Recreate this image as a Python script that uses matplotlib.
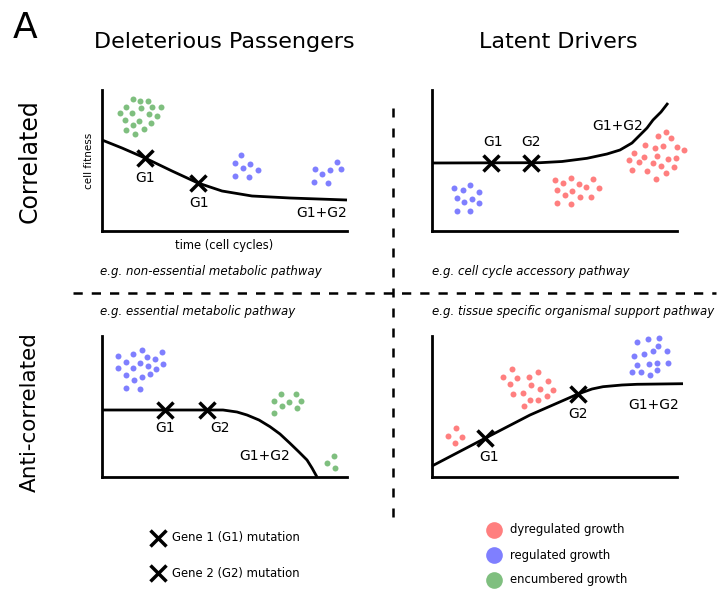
import matplotlib
matplotlib.use("Agg")
import matplotlib.pyplot as plt

RED = "#ff7f7f"
BLUE = "#7f7fff"
GREEN = "#7fbf7f"

# panel data, in axis units (pixels from the panel origin)
p1_curve_x = [0, 20, 43, 70, 96, 120, 150, 188, 245]
p1_curve_y = [91, 83, 73, 60, 48, 40, 35, 33, 31]
p1_marks_x = [43, 96]
p1_marks_y = [73, 48]
p1_green_x = [30.6, 38.3, 45.6, 24.3, 39, 50.3, 58.6, 18.3, 30.3, 47, 55.3, 23.3, 37.3, 49, 30.6, 41.6, 24.3, 33.3]
p1_green_y = [131.7, 129.7, 130.3, 124.3, 123, 124.3, 124.3, 117.7, 117.7, 117, 115, 111, 110.3, 107.7, 105.7, 102.3, 101, 97]
p1_blue_x = [139.3, 132.6, 148.3, 140.6, 156, 132.6, 146.6, 235, 212.6, 227.6, 239.3, 220, 212.3, 226]
p1_blue_y = [75.7, 67.7, 67, 63.3, 61, 55.3, 54.3, 68.7, 61.7, 61, 61.7, 57, 49.3, 48.3]

p2_curve_x = [0, 108, 130, 155, 175, 188, 200, 208, 215, 221, 229, 236]
p2_curve_y = [68, 68.3, 69.5, 72.7, 77, 81, 88, 96, 103, 111, 119, 128]
p2_marks_x = [58.7, 99]
p2_marks_y = [68.3, 68.3]
p2_blue_x = [22, 31.3, 38.3, 46.7, 24.7, 32.3, 40.3, 47.3, 24.7, 38.3]
p2_blue_y = [43.3, 40.7, 45.7, 39.3, 33.3, 28.7, 32.3, 28.3, 20.3, 19.7]
p2_red_x = [123, 131.3, 138.7, 147, 161.3, 125, 133, 140.3, 153.7, 167.3, 148, 158.7, 124.7, 138.7,
            234, 226, 239, 213.3, 223, 231.3, 244.7, 252.3, 201.7, 212, 225.3, 236.3, 244.3, 197,
            206.7, 221.3, 228.7, 242, 199.7, 215, 233.7, 224.3]
p2_red_y = [50.7, 47.7, 53.3, 46.7, 52, 40.7, 36, 39.7, 44.3, 43.3, 33.7, 34, 28, 27,
            99.3, 95, 93, 85.7, 83, 85, 84.3, 80.7, 78.3, 74.3, 75, 72.3, 72.7, 71,
            68.7, 67.7, 64.7, 63.7, 61.3, 60, 58.3, 52.3]

p3_curve_x = [0, 121, 135, 145, 157, 168, 178, 188, 197, 205, 210, 215]
p3_curve_y = [67, 67, 65, 62, 57, 50.3, 43, 33.7, 25, 17, 9, 0]
p3_marks_x = [63, 105.3]
p3_marks_y = [67, 67]
p3_blue_x = [16.3, 31.3, 39.7, 59.7, 24, 44.7, 53, 15.7, 30.7, 38, 46.3, 54, 60.7, 24, 32, 39.7, 48, 24, 38]
p3_blue_y = [121, 123.3, 127, 125.3, 115.3, 120.3, 117.7, 108.7, 109.3, 114.3, 111.3, 107.7, 113, 102, 97, 100.3, 102.7, 88.7, 88]
p3_green_x = [178.7, 193.7, 172, 187.3, 198.7, 180.3, 194.7, 172, 231.7, 225.3, 233]
p3_green_y = [83, 82.7, 76, 74.7, 76, 71, 69.3, 63.7, 21, 13.7, 9.3]

p4_curve_x = [0, 53, 98, 146, 160, 171, 190, 205, 251]
p4_curve_y = [11, 38.7, 62, 83, 88, 90.3, 92, 92.7, 93.3]
p4_marks_x = [53, 146.3]
p4_marks_y = [38.7, 83]
p4_red_x = [24, 16.3, 30, 23, 79.7, 105.7, 71.3, 85.3, 97, 78.3, 99, 115.7, 80.7, 90.7, 108, 121.3, 98, 106, 114.7, 92.3]
p4_red_y = [48.7, 41, 40.3, 33.7, 108, 104.7, 100.3, 99.3, 100.3, 93.3, 92, 96.3, 83.3, 84.3, 88, 87.3, 77, 77.3, 81.3, 71.3]
p4_blue_x = [204.7, 216.3, 226.7, 226.3, 212, 220.7, 234.7, 202, 204.7, 216.7, 225.3, 236.3, 199.7, 208.7, 218, 224.7]
p4_blue_y = [135.3, 138, 139.3, 131.3, 123, 126.3, 126.3, 121, 112.3, 113, 113.7, 114.3, 105, 105, 101.7, 106.7]

legend_genes = ["Gene 1 (G1) mutation", "Gene 2 (G2) mutation"]
legend_growth = ["dyregulated growth", "regulated growth", "encumbered growth"]
legend_colors = [RED, BLUE, GREEN]

W, H = 718, 589
fig = plt.figure(figsize=(W / 100, H / 100), dpi=100)
bg = fig.add_axes([0, 0, 1, 1])
bg.set_xlim(0, W)
bg.set_ylim(H, 0)
bg.axis("off")


def panel(x0, ybot):
    ax = fig.add_axes([x0 / W, 1 - ybot / H, 245 / W, 141 / H])
    ax.set_xlim(0, 245)
    ax.set_ylim(0, 141)
    for s in ["top", "right"]:
        ax.spines[s].set_visible(False)
    for s in ["left", "bottom"]:
        ax.spines[s].set_linewidth(2)
    ax.set_xticks([])
    ax.set_yticks([])
    ax.patch.set_alpha(0)
    return ax


def dots(ax, xs, ys, color):
    ax.plot(xs, ys, "o", color=color, ms=4.3, mec="none", clip_on=False)


def curve(ax, xs, ys, mx, my):
    ax.plot(xs, ys, color="black", lw=2, clip_on=False, solid_capstyle="butt")
    ax.plot(mx, my, "x", color="black", ms=12, mew=2.5, clip_on=False)


lab = dict(fontsize=10, ha="center", va="center")

ax1 = panel(102, 231)
dots(ax1, p1_green_x, p1_green_y, GREEN)
dots(ax1, p1_blue_x, p1_blue_y, BLUE)
curve(ax1, p1_curve_x, p1_curve_y, p1_marks_x, p1_marks_y)
ax1.text(43, 53, "G1", **lab)
ax1.text(97, 28, "G1", **lab)
ax1.text(220, 18, "G1+G2", **lab)
ax1.set_ylabel("cell fitness", fontsize=7.5, labelpad=6)
ax1.set_xlabel("time (cell cycles)", fontsize=8.3, labelpad=6)

ax2 = panel(432, 231)
dots(ax2, p2_blue_x, p2_blue_y, BLUE)
dots(ax2, p2_red_x, p2_red_y, RED)
curve(ax2, p2_curve_x, p2_curve_y, p2_marks_x, p2_marks_y)
ax2.text(61, 89, "G1", **lab)
ax2.text(99, 89, "G2", **lab)
ax2.text(186, 105, "G1+G2", **lab)

ax3 = panel(102, 477)
dots(ax3, p3_blue_x, p3_blue_y, BLUE)
dots(ax3, p3_green_x, p3_green_y, GREEN)
curve(ax3, p3_curve_x, p3_curve_y, p3_marks_x, p3_marks_y)
ax3.text(63, 48.5, "G1", **lab)
ax3.text(118, 48.5, "G2", **lab)
ax3.text(163, 21, "G1+G2", **lab)

ax4 = panel(432, 477)
dots(ax4, p4_red_x, p4_red_y, RED)
dots(ax4, p4_blue_x, p4_blue_y, BLUE)
curve(ax4, p4_curve_x, p4_curve_y, p4_marks_x, p4_marks_y)
ax4.text(57, 20, "G1", **lab)
ax4.text(146, 63, "G2", **lab)
ax4.text(222, 72, "G1+G2", **lab)

# headings and row labels
bg.text(13, 28, "A", fontsize=26, ha="left", va="center")
bg.text(224, 42, "Deleterious Passengers", fontsize=16, ha="center", va="center")
bg.text(558, 42, "Latent Drivers", fontsize=16, ha="center", va="center")
bg.text(30, 161, "Correlated", fontsize=17, rotation=90, ha="center", va="center")
bg.text(30, 412, "Anti-correlated", fontsize=15.5, rotation=90, ha="center", va="center")

it = dict(fontsize=8.5, style="italic", ha="left", va="center")
bg.text(100, 272, "e.g. non-essential metabolic pathway", **it)
bg.text(432, 272, "e.g. cell cycle accessory pathway", **it)
bg.text(100, 311, "e.g. essential metabolic pathway", **it)
bg.text(432, 311, "e.g. tissue specific organismal support pathway", **it)

# quadrant separators
bg.plot([73, 716], [293, 293], color="black", lw=1.8, ls=(0, (3.7, 3.6)))
bg.plot([393, 393], [108, 520], color="black", lw=1.8, ls=(0, (3.6, 4.4)))

# legends
for i, t in enumerate(legend_genes):
    y = 538 + i * 35
    bg.plot(158, y, "x", color="black", ms=12, mew=2.5)
    bg.text(172, y, t, fontsize=8.4, ha="left", va="center")
for i, (t, c) in enumerate(zip(legend_growth, legend_colors)):
    y = 530 + i * 25
    bg.plot(494, y, "o", color=c, ms=12, mec="none")
    bg.text(510, y, t, fontsize=8.4, ha="left", va="center")

fig.savefig("out.png", dpi=100)
